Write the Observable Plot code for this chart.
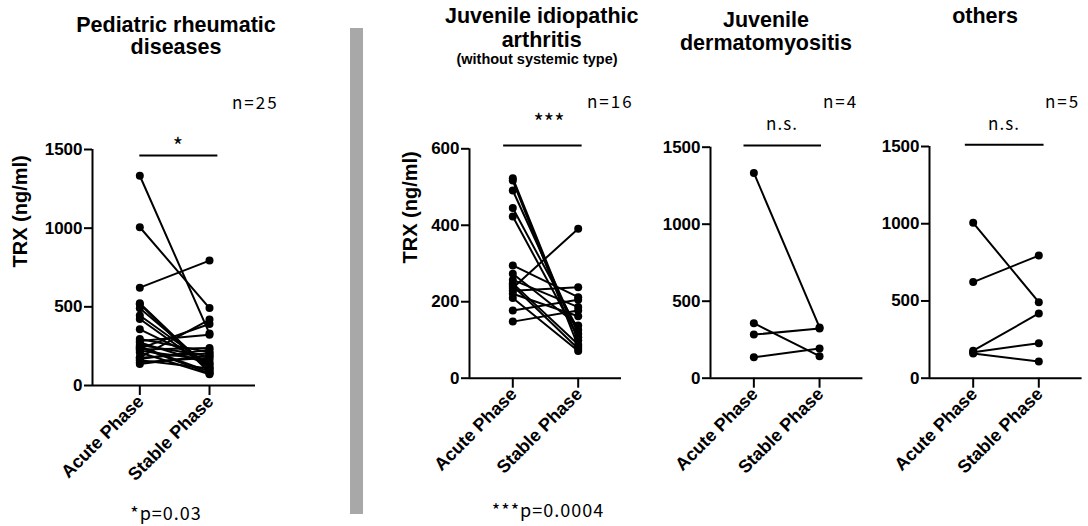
<!DOCTYPE html>
<html>
<head>
<meta charset="utf-8">
<script src="https://cdn.jsdelivr.net/npm/d3@7"></script>
<script src="https://cdn.jsdelivr.net/npm/@observablehq/plot@0.6"></script>
<style>
  html, body { margin: 0; padding: 0; background: white; }
  #wrap { position: relative; width: 1088px; height: 526px; overflow: hidden; background: white; }
  #wrap > svg, #wrap > figure { position: absolute; top: 0; margin: 0; }
  #bar { position: absolute; left: 350px; top: 28px; width: 12.5px; height: 486px; background: #a8a8a8; }
</style>
</head>
<body>
<div id="wrap"><div id="bar"></div></div>
<script>
// ---- data ----
const phases = ["Acute Phase", "Stable Phase"];
const jiaAcute  = [523, 517, 491, 445, 423, 295, 273, 257, 248, 242, 236, 229, 221, 210, 177, 148];
const jiaStable = [ 99,  83, 116, 127, 107, 212, 138, 186,  88,  77, 391, 238, 162,  71, 205, 177];
const jdmAcute  = [1333, 357, 283, 136];
const jdmStable = [ 330, 143, 322, 193];
const othAcute  = [1006, 622, 178, 168, 160];
const othStable = [ 492, 794, 419, 227, 108];
const ticks1500 = [0, 500, 1000, 1500];
const ticks600  = [0, 200, 400, 600];

function pairs(acute, stable) {
  const rows = [];
  acute.forEach((a, i) => {
    rows.push({id: i, phase: 0, value: a});
    rows.push({id: i, phase: 1, value: stable[i]});
  });
  return rows;
}
const allAcute = [...jiaAcute, ...jdmAcute, ...othAcute];
const allStable = [...jiaStable, ...jdmStable, ...othStable];
const phaseRows = phases.map((p, i) => ({i, p}));

const FONT = "Liberation Sans, Arial, Helvetica, sans-serif";
const wrap = document.getElementById("wrap");

function panel({acute, stable, yMax, yTicks, left, width, mLeft, mRight, mTop, mBottom,
                xDomain, bracket, ylabel, ylabelDx}) {
  const data = pairs(acute, stable);
  const marks = [
    Plot.ruleY([0], {strokeWidth: 2}),
    Plot.ruleX([xDomain[0]], {y1: 0, y2: yMax, strokeWidth: 2}),
    Plot.axisY({ticks: yTicks, tickSize: 8, tickPadding: 2, strokeWidth: 2,
                fontSize: 17, fontWeight: "bold", label: null, tickFormat: d => String(d)}),
    Plot.axisX({ticks: [0, 1], tickFormat: () => "", tickSize: 10, strokeWidth: 2, label: null}),
    Plot.text(phaseRows, {x: "i", text: "p", frameAnchor: "bottom", dy: 13, dx: 1,
      rotate: -45, textAnchor: "end", lineAnchor: "middle",
      fontSize: 18, fontWeight: "bold", fontFamily: FONT, fill: "black"}),
    Plot.line(data, {x: "phase", y: "value", z: "id", stroke: "black", strokeWidth: 2}),
    Plot.dot(data, {x: "phase", y: "value", r: 4, fill: "black", stroke: "none"}),
    Plot.ruleY([bracket.y], {x1: bracket.x1, x2: bracket.x2, strokeWidth: 2})
  ];
  if (ylabel) {
    marks.push(Plot.text([ylabel], {frameAnchor: "left", rotate: -90, dx: ylabelDx,
      fontSize: 20, fontWeight: "bold", fontFamily: FONT, fill: "black"}));
  }
  const chart = Plot.plot({
    width, height: 526,
    marginLeft: mLeft, marginRight: mRight, marginTop: mTop, marginBottom: mBottom,
    x: {type: "linear", domain: xDomain, axis: null},
    y: {domain: [0, yMax], axis: null, clamp: false},
    style: {background: "transparent", fontFamily: FONT, color: "black", overflow: "visible"},
    marks
  });
  chart.style.left = left + "px";
  chart.style.position = "absolute";
  chart.style.top = "0px";
  wrap.appendChild(chart);
}

panel({acute: allAcute, stable: allStable, yMax: 1500, yTicks: ticks1500,
  left: 0, width: 300, mLeft: 92, mRight: 45, mTop: 149, mBottom: 141,
  xDomain: [-0.679, 1.66], bracket: {y: 1462, x1: 0, x2: 1.12},
  ylabel: "TRX (ng/ml)", ylabelDx: -72});

panel({acute: jiaAcute, stable: jiaStable, yMax: 600, yTicks: ticks600,
  left: 370, width: 270, mLeft: 99, mRight: 19, mTop: 148.3, mBottom: 148.3,
  xDomain: [-0.662, 1.662], bracket: {y: 608.6, x1: -0.14, x2: 1.06},
  ylabel: "TRX (ng/ml)", ylabelDx: -59});

panel({acute: jdmAcute, stable: jdmStable, yMax: 1500, yTicks: ticks1500,
  left: 640, width: 230, mLeft: 70, mRight: 7.6, mTop: 146.7, mBottom: 148.3,
  xDomain: [-0.66, 1.66], bracket: {y: 1511, x1: -0.15, x2: 1.03}});

panel({acute: othAcute, stable: othStable, yMax: 1500, yTicks: ticks1500,
  left: 870, width: 218, mLeft: 59, mRight: 6.4, mTop: 146, mBottom: 148.3,
  xDomain: [-0.666, 1.66], bracket: {y: 1511, x1: -0.12, x2: 1.08}});

// ---- text overlay ----
const LIGHT = "'Noto Sans CJK JP', 'Noto Sans', sans-serif";
const texts = [
  {t: "Pediatric rheumatic", x: 176, y: 31.7, s: 21.5, w: "bold", f: FONT, a: "middle"},
  {t: "diseases", x: 176, y: 54, s: 21.5, w: "bold", f: FONT, a: "middle"},
  {t: "Juvenile idiopathic", x: 541.7, y: 23, s: 21.5, w: "bold", f: FONT, a: "middle"},
  {t: "arthritis", x: 541.7, y: 46.5, s: 21.5, w: "bold", f: FONT, a: "middle"},
  {t: "(without systemic type)", x: 537, y: 64, s: 14.5, w: "bold", f: FONT, a: "middle"},
  {t: "Juvenile", x: 766, y: 27, s: 21.5, w: "bold", f: FONT, a: "middle"},
  {t: "dermatomyositis", x: 766, y: 50, s: 21.5, w: "bold", f: FONT, a: "middle"},
  {t: "others", x: 985, y: 23, s: 21.5, w: "bold", f: FONT, a: "middle"},
  {t: "n=25", x: 232, y: 109, s: 17, w: 400, f: LIGHT, a: "start", ls: 2},
  {t: "n=16", x: 587, y: 108, s: 17, w: 400, f: LIGHT, a: "start", ls: 2},
  {t: "n=4", x: 823, y: 108, s: 17, w: 400, f: LIGHT, a: "start", ls: 2},
  {t: "n=5", x: 1045, y: 108, s: 17, w: 400, f: LIGHT, a: "start", ls: 2},
  {t: "*", x: 178, y: 154, s: 22, w: 400, f: LIGHT, a: "middle"},
  {t: "***", x: 549, y: 130, s: 22, w: 400, f: LIGHT, a: "middle"},
  {t: "n.s.", x: 782, y: 130, s: 17, w: 400, f: LIGHT, a: "middle", ls: 1},
  {t: "n.s.", x: 1004, y: 130, s: 17, w: 400, f: LIGHT, a: "middle", ls: 1},
  {t: "*p=0.03", x: 166, y: 520, s: 18, w: 400, f: LIGHT, a: "middle", ls: 1},
  {t: "***p=0.0004", x: 548, y: 516.7, s: 18, w: 400, f: LIGHT, a: "middle", ls: 1}
];
const overlay = d3.create("svg")
  .attr("width", 1088).attr("height", 526)
  .style("position", "absolute").style("left", "0px").style("top", "0px")
  .style("pointer-events", "none");
overlay.selectAll("text").data(texts).join("text")
  .attr("x", d => d.x).attr("y", d => d.y)
  .attr("text-anchor", d => d.a)
  .attr("font-family", d => d.f)
  .attr("font-size", d => d.s)
  .attr("font-weight", d => d.w)
  .attr("letter-spacing", d => d.ls || 0)
  .attr("fill", "black")
  .text(d => d.t);
wrap.appendChild(overlay.node());
</script>
</body>
</html>
